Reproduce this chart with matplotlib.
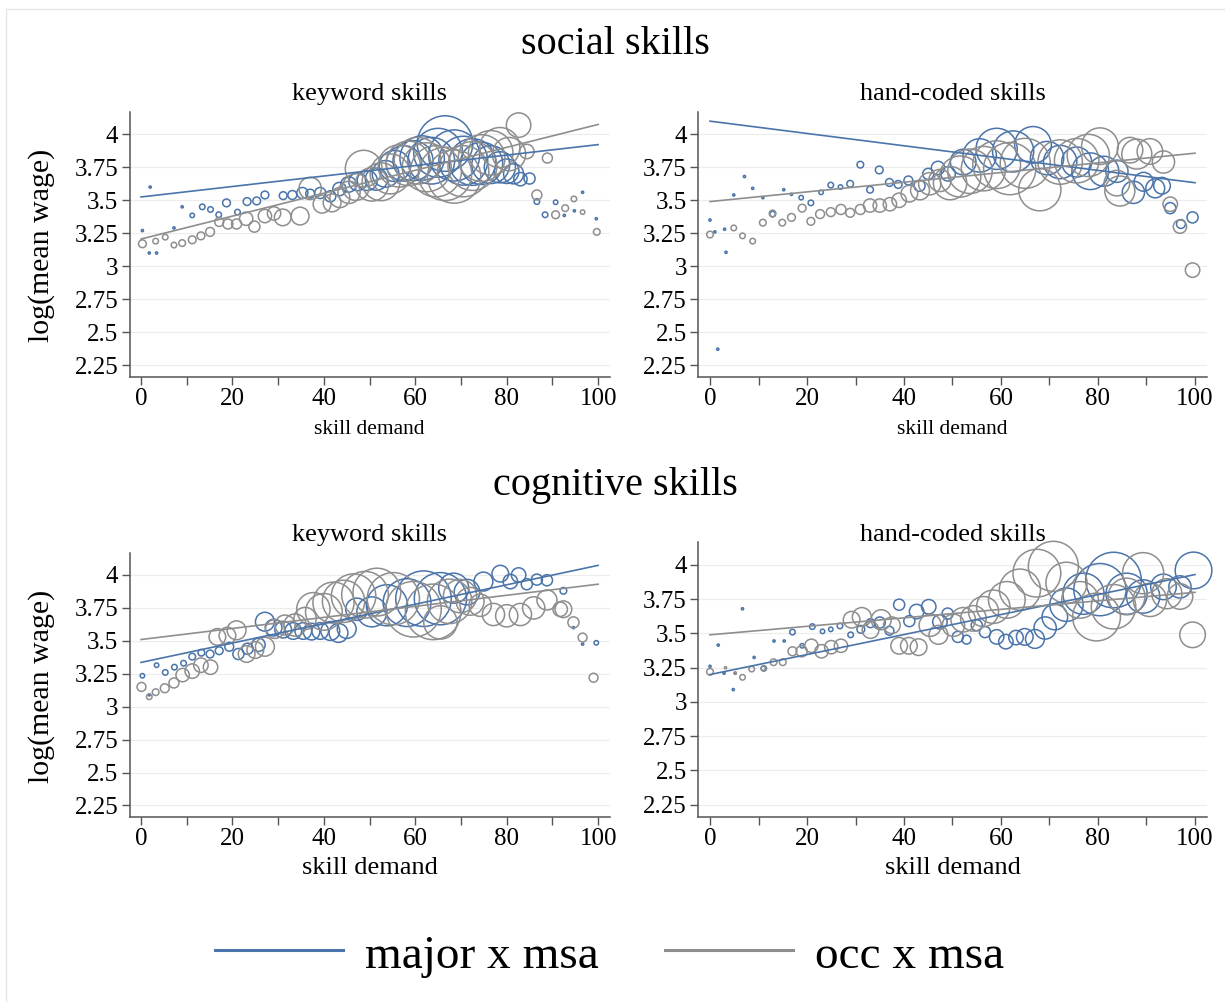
import numpy as np
import matplotlib
matplotlib.use('Agg')
import matplotlib.pyplot as plt
from matplotlib.lines import Line2D
from matplotlib.ticker import FixedLocator, FuncFormatter

plt.rcParams['font.family'] = ['Liberation Serif', 'DejaVu Serif']

# ---- social skills, keyword ----
soc_kw_major_x = [0.3, 1.8, 2.0, 3.4, 7.2, 9.0, 11.2, 13.4, 15.2, 17.0, 18.7, 21.1, 23.2, 25.3, 27.1,
                  31.1, 33.1, 35.3, 37.0, 39.2, 41.4, 43.4, 45.4, 47.4, 49.5, 51.5, 53.5, 55.5, 57.5, 59.5,
                  61.5, 63.5, 65.0, 66.5, 68.5, 70.5, 72.5, 74.5, 76.5, 78.5, 80.0, 81.5, 83.0, 85.0, 86.6,
                  88.4, 90.7, 92.6, 94.8, 96.6, 99.6]
soc_kw_major_y = [3.27, 3.10, 3.60, 3.10, 3.29, 3.45, 3.385, 3.45, 3.43, 3.39, 3.48, 3.41, 3.49, 3.495, 3.54,
                  3.535, 3.54, 3.555, 3.55, 3.555, 3.53, 3.585, 3.62, 3.64, 3.65, 3.66, 3.70, 3.76, 3.78, 3.80,
                  3.82, 3.80, 3.86, 3.93, 3.84, 3.80, 3.79, 3.78, 3.77, 3.75, 3.72, 3.70, 3.66, 3.665, 3.49,
                  3.39, 3.485, 3.385, 3.42, 3.56, 3.36]
soc_kw_major_w = [2, 2, 2, 2, 2, 2, 4, 5, 5, 5, 7, 5, 7, 7, 7, 7, 8, 10, 8, 10, 10, 12, 14, 16, 18,
                  20, 24, 28, 32, 36, 40, 42, 44, 50, 46, 44, 42, 38, 34, 28, 22, 18, 12, 10, 5, 5, 4, 2, 2, 2, 2]
soc_kw_occ_x = [0.3, 3.2, 5.3, 7.2, 9.0, 11.2, 13.1, 15.1, 17.1, 19.0, 20.9, 23.0, 24.8, 27.1, 29.1,
                31.0, 34.8, 37.0, 39.6, 41.8, 43.5, 45.5, 47.0, 48.7, 50.5, 52.5, 54.5, 56.5, 58.5, 60.5,
                62.5, 64.5, 66.5, 68.5, 70.5, 72.5, 74.5, 76.5, 78.5, 80.5, 82.6, 84.4, 86.6, 88.9, 90.7,
                92.8, 94.7, 96.6, 99.7]
soc_kw_occ_y = [3.17, 3.19, 3.22, 3.16, 3.175, 3.20, 3.23, 3.26, 3.335, 3.32, 3.32, 3.36, 3.30, 3.38, 3.40,
                3.37, 3.38, 3.59, 3.47, 3.48, 3.52, 3.56, 3.60, 3.74, 3.62, 3.64, 3.70, 3.76, 3.78, 3.80,
                3.75, 3.72, 3.70, 3.68, 3.72, 3.76, 3.82, 3.86, 3.90, 3.85, 4.07, 3.87, 3.54, 3.82, 3.39,
                3.44, 3.51, 3.41, 3.26]
soc_kw_occ_w = [7, 5, 5, 5, 6, 7, 7, 8, 8, 9, 9, 12, 10, 12, 12, 15, 16, 20, 16, 16, 18, 20, 24, 33, 30,
                34, 36, 38, 40, 42, 44, 46, 48, 48, 46, 44, 42, 40, 36, 30, 22, 13, 9, 9, 7, 6, 5, 4, 6]

# ---- social skills, hand-coded ----
soc_hc_major_x = [0, 1.0, 1.6, 3.0, 3.3, 4.9, 7.1, 8.8, 10.9, 12.9, 15.2, 16.8, 18.8, 20.8, 22.9,
                  24.9, 26.9, 28.9, 31.0, 33.0, 34.9, 37.0, 38.8, 40.9, 43.2, 45.0, 47.0, 49.1, 52.2, 55.6,
                  59.1, 62.5, 66.6, 69.5, 72.2, 75.6, 78.4, 81.2, 83.9, 87.3, 89.4, 91.8, 93.2, 94.9, 97.1, 99.5]
soc_hc_major_y = [3.35, 3.26, 2.37, 3.28, 3.105, 3.54, 3.68, 3.59, 3.52, 3.395, 3.58, 3.545, 3.52, 3.48, 3.56,
                  3.615, 3.60, 3.625, 3.77, 3.58, 3.73, 3.635, 3.62, 3.65, 3.61, 3.70, 3.745, 3.70, 3.79, 3.84,
                  3.89, 3.87, 3.92, 3.82, 3.79, 3.79, 3.72, 3.72, 3.72, 3.56, 3.64, 3.59, 3.61, 3.44, 3.32, 3.37]
soc_hc_major_w = [2, 2, 2, 2, 2, 2, 2, 2, 2, 5, 2, 2, 4, 5, 4, 5, 4, 6, 6, 6, 7, 7, 7, 8, 10,
                  10, 12, 13, 23, 30, 37, 37, 33, 30, 30, 27, 33, 27, 20, 20, 17, 17, 15, 10, 8, 10]
soc_hc_occ_x = [0, 4.9, 6.7, 8.8, 10.9, 12.9, 14.9, 16.8, 19.0, 20.8, 22.7, 24.9, 27.0, 28.9, 31.0,
                33.0, 35.0, 37.1, 39.0, 41.1, 43.3, 45.3, 47.4, 49.5, 51.6, 53.6, 56.4, 59.1, 61.8, 65.0,
                68.0, 72.2, 75.6, 78.0, 80.4, 83.9, 84.5, 86.6, 88.0, 90.7, 93.5, 94.9, 96.9, 99.5]
soc_hc_occ_y = [3.24, 3.29, 3.23, 3.19, 3.33, 3.40, 3.33, 3.37, 3.44, 3.34, 3.395, 3.41, 3.43, 3.405, 3.43,
                3.46, 3.46, 3.47, 3.50, 3.55, 3.575, 3.625, 3.65, 3.63, 3.68, 3.72, 3.74, 3.77, 3.74, 3.78,
                3.58, 3.79, 3.80, 3.84, 3.91, 3.63, 3.57, 3.88, 3.85, 3.87, 3.79, 3.47, 3.30, 2.97]
soc_hc_occ_w = [6, 5, 5, 5, 6, 6, 6, 7, 7, 7, 8, 8, 9, 8, 9, 12, 12, 12, 13, 15, 17, 20, 20, 30, 37,
                40, 40, 43, 47, 45, 38, 40, 40, 38, 33, 23, 27, 23, 27, 23, 20, 13, 12, 13]

# ---- cognitive skills, keyword ----
cog_kw_major_x = [0.3, 1.8, 3.4, 5.3, 7.3, 9.3, 11.2, 13.2, 15.1, 17.1, 19.3, 21.3, 23.3, 25.7, 27.1,
                  29.0, 31.1, 33.3, 35.5, 37.3, 39.2, 41.4, 43.2, 45.0, 47.2, 50.5, 53.8, 58.2, 61.8, 65.5,
                  68.4, 71.3, 74.9, 78.6, 80.8, 82.6, 84.4, 86.6, 88.8, 92.4, 94.6, 96.6, 99.6]
cog_kw_major_y = [3.235, 3.09, 3.315, 3.26, 3.30, 3.33, 3.38, 3.41, 3.40, 3.425, 3.455, 3.40, 3.44, 3.47, 3.645,
                  3.60, 3.585, 3.575, 3.575, 3.57, 3.575, 3.575, 3.56, 3.59, 3.74, 3.72, 3.77, 3.79, 3.82, 3.82,
                  3.90, 3.87, 3.95, 4.01, 3.95, 4.00, 3.93, 3.965, 3.96, 3.88, 3.60, 3.475, 3.485]
cog_kw_major_w = [4, 2, 4, 5, 5, 5, 6, 6, 7, 7, 8, 10, 10, 12, 17, 15, 15, 15, 15, 15, 15, 17, 17, 17, 20,
                  27, 37, 43, 50, 47, 27, 23, 17, 15, 13, 13, 10, 10, 10, 6, 2, 2, 4]
cog_kw_occ_x = [0.1, 1.8, 3.2, 5.2, 7.2, 9.1, 11.2, 13.1, 15.2, 16.7, 18.9, 20.9, 23.1, 25.0, 27.1,
                29.3, 31.5, 33.7, 35.9, 37.7, 40.0, 42.1, 44.3, 46.5, 49.0, 51.6, 55.2, 59.6, 63.9, 65.5,
                67.5, 69.8, 72.0, 74.2, 77.1, 80.0, 83.0, 85.9, 88.8, 91.7, 92.4, 94.6, 96.6, 99.0]
cog_kw_occ_y = [3.15, 3.075, 3.11, 3.14, 3.18, 3.24, 3.27, 3.315, 3.30, 3.53, 3.54, 3.58, 3.40, 3.43, 3.455,
                3.59, 3.62, 3.62, 3.67, 3.74, 3.72, 3.79, 3.80, 3.84, 3.85, 3.87, 3.82, 3.74, 3.72, 3.64,
                3.80, 3.84, 3.80, 3.77, 3.70, 3.69, 3.70, 3.75, 3.81, 3.74, 3.74, 3.64, 3.525, 3.22]
cog_kw_occ_w = [8, 5, 6, 8, 9, 12, 13, 13, 13, 15, 15, 17, 15, 15, 17, 17, 18, 20, 20, 30, 33, 37, 38, 40, 42,
                43, 47, 50, 50, 30, 40, 30, 25, 20, 20, 20, 20, 20, 18, 13, 15, 10, 8, 8]

# ---- cognitive skills, hand-coded ----
cog_hc_major_x = [0, 1.7, 2.9, 4.8, 5.2, 6.7, 9.1, 11.0, 13.2, 15.3, 17.0, 19.0, 21.1, 23.2, 24.9,
                  26.8, 29.0, 31.1, 33.1, 35.0, 37.0, 39.0, 41.1, 42.6, 45.1, 47.4, 49.0, 51.1, 52.9, 55.0,
                  56.7, 59.1, 61.0, 63.1, 64.9, 67.0, 69.1, 71.1, 73.5, 77.0, 80.4, 83.2, 85.9, 89.3, 93.5,
                  96.9, 99.7]
cog_hc_major_y = [3.26, 3.415, 3.21, 3.09, 3.21, 3.68, 3.325, 3.245, 3.445, 3.445, 3.51, 3.41, 3.55, 3.515, 3.53,
                  3.555, 3.49, 3.53, 3.575, 3.58, 3.52, 3.71, 3.59, 3.66, 3.695, 3.585, 3.645, 3.475, 3.455, 3.56,
                  3.51, 3.475, 3.44, 3.47, 3.475, 3.46, 3.54, 3.62, 3.71, 3.79, 3.82, 3.89, 3.79, 3.77, 3.84,
                  3.84, 3.96]
cog_hc_major_w = [2, 2, 2, 2, 2, 2, 2, 4, 2, 2, 5, 4, 5, 4, 4, 5, 5, 7, 8, 10, 8, 10, 10, 13, 13,
                  13, 10, 10, 8, 10, 10, 13, 13, 13, 15, 17, 20, 23, 30, 37, 47, 50, 37, 30, 23, 20, 33]
cog_hc_occ_x = [0, 3.2, 5.2, 6.7, 8.6, 11.1, 13.1, 15.0, 17.0, 18.9, 20.9, 23.0, 25.0, 27.0, 29.2,
                31.3, 33.1, 35.3, 37.5, 39.0, 41.0, 43.0, 45.4, 47.1, 50.2, 52.2, 54.3, 56.4, 58.4, 61.2,
                63.9, 67.4, 70.8, 73.5, 76.3, 79.7, 83.2, 85.9, 89.3, 90.7, 94.2, 96.9, 99.5]
cog_hc_occ_y = [3.22, 3.25, 3.21, 3.18, 3.24, 3.245, 3.29, 3.29, 3.37, 3.37, 3.41, 3.37, 3.40, 3.41, 3.60,
                3.62, 3.525, 3.60, 3.56, 3.41, 3.41, 3.40, 3.56, 3.49, 3.56, 3.60, 3.61, 3.66, 3.695, 3.745,
                3.82, 3.94, 3.99, 3.87, 3.745, 3.62, 3.695, 3.77, 3.94, 3.745, 3.79, 3.77, 3.49]
cog_hc_occ_w = [6, 2, 2, 5, 5, 5, 6, 6, 8, 10, 12, 12, 12, 12, 15, 17, 15, 18, 15, 15, 15, 15, 20, 17, 20,
                22, 23, 27, 30, 33, 37, 43, 45, 37, 33, 43, 40, 33, 37, 30, 27, 23, 23]

# linear fits: value at skill demand 0 and 100
fit_major = {'soc_kw': (3.525, 3.922), 'soc_hc': (4.10, 3.633), 'cog_kw': (3.336, 4.073), 'cog_hc': (3.20, 3.93)}
fit_occ = {'soc_kw': (3.206, 4.075), 'soc_hc': (3.49, 3.857), 'cog_kw': (3.51, 3.93), 'cog_hc': (3.49, 3.80)}

blue = '#4a74aa'
grey = '#8e8e8e'
axcol = '#555555'

fig = plt.figure(figsize=(12.25, 10.02), dpi=100)

panels = [
    ('soc_kw', [0.1058, 0.6241, 0.3918, 0.2642], soc_kw_major_x, soc_kw_major_y, soc_kw_major_w,
     soc_kw_occ_x, soc_kw_occ_y, soc_kw_occ_w),
    ('soc_hc', [0.5697, 0.6241, 0.4157, 0.2642], soc_hc_major_x, soc_hc_major_y, soc_hc_major_w,
     soc_hc_occ_x, soc_hc_occ_y, soc_hc_occ_w),
    ('cog_kw', [0.1058, 0.1846, 0.3918, 0.2639], cog_kw_major_x, cog_kw_major_y, cog_kw_major_w,
     cog_kw_occ_x, cog_kw_occ_y, cog_kw_occ_w),
    ('cog_hc', [0.5697, 0.1849, 0.4157, 0.2745], cog_hc_major_x, cog_hc_major_y, cog_hc_major_w,
     cog_hc_occ_x, cog_hc_occ_y, cog_hc_occ_w),
]

yt = [2.25, 2.5, 2.75, 3, 3.25, 3.5, 3.75, 4]
xline = np.array([0, 100])

for key, pos, mx, my, mw, ox, oy, ow in panels:
    ax = fig.add_axes(pos)
    ax.scatter(mx, my, s=(0.8 * np.array(mw)) ** 2, facecolors='none', edgecolors=blue,
               linewidths=1.1, zorder=3, clip_on=False)
    ax.scatter(ox, oy, s=(0.8 * np.array(ow)) ** 2, facecolors='none', edgecolors=grey,
               linewidths=1.1, zorder=3, clip_on=False)
    ax.plot(xline, np.interp(xline, [0, 100], fit_major[key]), color=blue, lw=1.2, zorder=4)
    ax.plot(xline, np.interp(xline, [0, 100], fit_occ[key]), color=grey, lw=1.2, zorder=4)

    ax.set_xlim(-2.5, 102.5)
    ax.set_ylim(2.162, 4.17)
    ax.yaxis.set_major_locator(FixedLocator(yt))
    ax.yaxis.set_major_formatter(FuncFormatter(lambda v, p: '%g' % v))
    ax.xaxis.set_major_locator(FixedLocator([0, 20, 40, 60, 80, 100]))
    ax.xaxis.set_minor_locator(FixedLocator([10, 30, 50, 70, 90]))
    ax.grid(axis='y', color='#ececec', lw=0.8, zorder=0)
    ax.set_axisbelow(True)
    for s in ['top', 'right']:
        ax.spines[s].set_visible(False)
    for s in ['left', 'bottom']:
        ax.spines[s].set_color(axcol)
        ax.spines[s].set_linewidth(1.1)
    ax.tick_params(which='both', direction='out', length=6, width=1.0, color=axcol,
                   labelsize=18, pad=2)

# titles and labels
fig.text(0.502, 0.956, 'social skills', ha='center', va='center', fontsize=29)
fig.text(0.502, 0.515, 'cognitive skills', ha='center', va='center', fontsize=29)
for yy in [0.906, 0.466]:
    fig.text(0.3017, yy, 'keyword skills', ha='center', va='center', fontsize=19)
    fig.text(0.7776, yy, 'hand-coded skills', ha='center', va='center', fontsize=19)
fig.text(0.3017, 0.571, 'skill demand', ha='center', va='center', fontsize=15.5)
fig.text(0.7776, 0.571, 'skill demand', ha='center', va='center', fontsize=15.5)
fig.text(0.3017, 0.134, 'skill demand', ha='center', va='center', fontsize=19)
fig.text(0.7776, 0.134, 'skill demand', ha='center', va='center', fontsize=19)
fig.text(0.034, 0.755, 'log(mean wage)', ha='center', va='center', rotation=90, fontsize=21.5)
fig.text(0.034, 0.315, 'log(mean wage)', ha='center', va='center', rotation=90, fontsize=21.5)

# legend
fig.add_artist(Line2D([215 / 1225, 343 / 1225], [0.052, 0.052], color=blue, lw=2.2))
fig.add_artist(Line2D([665 / 1225, 793 / 1225], [0.052, 0.052], color=grey, lw=2.2))
fig.text(365 / 1225, 0.034, 'major x msa', ha='left', va='baseline', fontsize=34)
fig.text(815 / 1225, 0.034, 'occ x msa', ha='left', va='baseline', fontsize=34)

# faint outer frame
fig.add_artist(Line2D([6 / 1225, 6 / 1225], [0, 1 - 9 / 1002], color='#e6e6e6', lw=1))
fig.add_artist(Line2D([6 / 1225, 1], [1 - 9 / 1002, 1 - 9 / 1002], color='#e6e6e6', lw=1))

fig.savefig('out.png', dpi=100)
